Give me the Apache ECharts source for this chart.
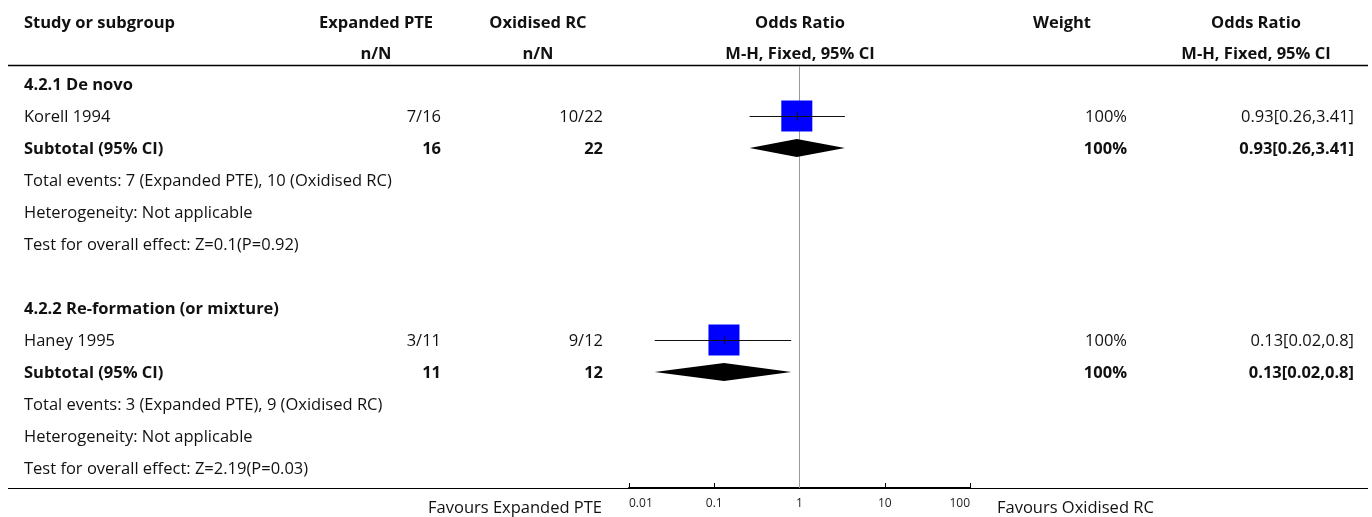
<!DOCTYPE html>
<html>
<head>
<meta charset="utf-8">
<title>Expanded PTE vs Oxidised RC</title>
<script src="https://cdn.jsdelivr.net/npm/echarts@6/dist/echarts.min.js"></script>
<style>
  html, body { margin: 0; padding: 0; background: #fff; }
  #chart { width: 1372px; height: 517px; }
</style>
</head>
<body>
<div id="chart"></div>
<script>
// Table rows, top to bottom
const rowLabels = [
  '4.2.1 De novo',
  'Korell 1994',
  'Subtotal (95% CI)',
  'Total events: 7 (Expanded PTE), 10 (Oxidised RC)',
  'Heterogeneity: Not applicable',
  'Test for overall effect: Z=0.1(P=0.92)',
  '',
  '4.2.2 Re-formation (or mixture)',
  'Haney 1995',
  'Subtotal (95% CI)',
  'Total events: 3 (Expanded PTE), 9 (Oxidised RC)',
  'Heterogeneity: Not applicable',
  'Test for overall effect: Z=2.19(P=0.03)'
];
const rowKinds = ['group', 'study', 'subtotal', 'note', 'note', 'note', 'blank',
                  'group', 'study', 'subtotal', 'note', 'note', 'note'];
const expandedCol = ['', '7/16', '16', '', '', '', '', '', '3/11', '11', '', '', ''];
const oxidisedCol = ['', '10/22', '22', '', '', '', '', '', '9/12', '12', '', '', ''];
const weightCol = ['', '100%', '100%', '', '', '', '', '', '100%', '100%', '', '', ''];
const orTextCol = ['', '0.93[0.26,3.41]', '0.93[0.26,3.41]', '', '', '', '', '',
                   '0.13[0.02,0.8]', '0.13[0.02,0.8]', '', '', ''];

// Effect estimates (odds ratios) and 95% CI per row
const orEstimate = [null, 0.93, 0.93, null, null, null, null, null, 0.13, 0.13, null, null, null];
const ciLower    = [null, 0.26, 0.26, null, null, null, null, null, 0.02, 0.02, null, null, null];
const ciUpper    = [null, 3.41, 3.41, null, null, null, null, null, 0.8,  0.8,  null, null, null];
const weightPct  = [null, 100, 100, null, null, null, null, null, 100, 100, null, null, null];

const axisTicks = [0.01, 0.1, 1, 10, 100];

const FONT = '"Open Sans"';
const FS = 16.5;
const TXT = '#111';

// Column anchors
const COL = {
  study: 24,
  expandedRight: 441,
  oxidisedRight: 603,
  weightRight: 1127,
  orRight: 1354,
  expandedHead: 376,
  oxidisedHead: 538,
  plotHead: 800,
  weightHead: 1062,
  orHead: 1256
};

const ROW_MIN = -0.5625;
const ROW_MAX = 12.625;

const chart = echarts.init(document.getElementById('chart'), null, { renderer: 'canvas' });

function txt(x, y, s, align, bold) {
  return {
    type: 'text',
    x: x, y: y,
    style: {
      text: s, fill: TXT, align: align, verticalAlign: 'middle',
      font: (bold ? 'bold ' : '') + FS + 'px ' + FONT
    }
  };
}

// Text columns for each row, vertically placed through the row axis
function renderTable(params, api) {
  const i = params.dataIndex;
  const y = api.coord([1, i])[1] + 1;
  const bold = rowKinds[i] === 'group' || rowKinds[i] === 'subtotal';
  const children = [];
  if (rowLabels[i]) children.push(txt(COL.study, y, rowLabels[i], 'left', bold));
  if (expandedCol[i]) children.push(txt(COL.expandedRight, y, expandedCol[i], 'right', bold));
  if (oxidisedCol[i]) children.push(txt(COL.oxidisedRight, y, oxidisedCol[i], 'right', bold));
  if (weightCol[i]) children.push(txt(COL.weightRight, y, weightCol[i], 'right', bold));
  if (orTextCol[i]) children.push(txt(COL.orRight, y, orTextCol[i], 'right', bold));
  return { type: 'group', children: children };
}

// Squares with CI whiskers for studies, diamonds for subtotals
function renderForest(params, api) {
  const i = params.dataIndex;
  if (orEstimate[i] == null) return null;
  const c = api.coord([orEstimate[i], i]);
  const lo = api.coord([ciLower[i], i]);
  const hi = api.coord([ciUpper[i], i]);
  const yl = Math.round(c[1]) + 0.5;
  if (rowKinds[i] === 'study') {
    const s = 31 * Math.sqrt(weightPct[i] / 100);
    return {
      type: 'group',
      children: [
        { type: 'rect', shape: { x: c[0] - s / 2, y: c[1] - s / 2, width: s, height: s },
          style: { fill: '#0000ff' } },
        { type: 'line', shape: { x1: lo[0], y1: yl, x2: hi[0], y2: yl },
          style: { stroke: '#111', lineWidth: 1 } },
        { type: 'line', shape: { x1: Math.round(c[0]) + 0.5, y1: yl - 4, x2: Math.round(c[0]) + 0.5, y2: yl + 4 },
          style: { stroke: '#111', lineWidth: 1 } }
      ]
    };
  }
  const h = 9;
  return {
    type: 'polygon',
    shape: { points: [[lo[0], c[1]], [c[0], c[1] - h], [hi[0], c[1]], [c[0], c[1] + h]] },
    style: { fill: '#000' }
  };
}

// Line of no effect at OR = 1
function renderNullLine(params, api) {
  const a = api.coord([1, ROW_MIN]);
  const b = api.coord([1, ROW_MAX]);
  const x = Math.round(a[0]) - 0.5;
  return { type: 'line', shape: { x1: x, y1: a[1], x2: x, y2: b[1] },
           style: { stroke: '#999', lineWidth: 1 } };
}

const rowIdx = rowLabels.map((_, i) => [1, i]);

const headFont = 'bold ' + FS + 'px ' + FONT;
function head(x, y, s, align) {
  return { type: 'text', x: x, y: y, silent: true,
           style: { text: s, fill: TXT, align: align, verticalAlign: 'middle', font: headFont } };
}

chart.setOption({
  animation: false,
  grid: { left: 629, right: 402, top: 66, bottom: 29 },
  xAxis: {
    type: 'log', logBase: 10, min: 0.01, max: 100,
    position: 'bottom',
    axisLine: { show: true, onZero: false, lineStyle: { color: '#000', width: 2 } },
    axisTick: { show: true, inside: true, length: 5, lineStyle: { color: '#000' } },
    axisLabel: {
      color: '#222', fontFamily: FONT, fontSize: 12, margin: 10,
      alignMinLabel: 'left', alignMaxLabel: 'right',
      formatter: v => {
        const t = axisTicks.find(k => Math.abs(Math.log10(k) - Math.log10(v)) < 1e-6);
        return t != null ? String(t) : '';
      }
    },
    splitLine: { show: false },
    minorTick: { show: false }
  },
  yAxis: {
    type: 'value', inverse: true, min: ROW_MIN, max: ROW_MAX,
    show: false
  },
  graphic: [
    head(COL.study, 23, 'Study or subgroup', 'left'),
    head(COL.expandedHead, 23, 'Expanded PTE', 'center'),
    head(COL.oxidisedHead, 23, 'Oxidised RC', 'center'),
    head(COL.plotHead, 23, 'Odds Ratio', 'center'),
    head(COL.weightHead, 23, 'Weight', 'center'),
    head(COL.orHead, 23, 'Odds Ratio', 'center'),
    head(COL.expandedHead, 54, 'n/N', 'center'),
    head(COL.oxidisedHead, 54, 'n/N', 'center'),
    head(COL.plotHead, 54, 'M-H, Fixed, 95% CI', 'center'),
    head(COL.orHead, 54, 'M-H, Fixed, 95% CI', 'center'),
    { type: 'line', silent: true, shape: { x1: 8, y1: 65.5, x2: 1368, y2: 65.5 },
      style: { stroke: '#000', lineWidth: 1.5 } },
    { type: 'line', silent: true, shape: { x1: 8, y1: 488.5, x2: 1368, y2: 488.5 },
      style: { stroke: '#000', lineWidth: 1 } },
    { type: 'text', x: 602, y: 508, silent: true,
      style: { text: 'Favours Expanded PTE', fill: TXT, align: 'right', verticalAlign: 'middle',
               font: FS + 'px ' + FONT } },
    { type: 'text', x: 997, y: 508, silent: true,
      style: { text: 'Favours Oxidised RC', fill: TXT, align: 'left', verticalAlign: 'middle',
               font: FS + 'px ' + FONT } }
  ],
  series: [
    { type: 'custom', name: 'null line', renderItem: renderNullLine, data: [[1, 0]], clip: false, silent: true },
    { type: 'custom', name: 'table', renderItem: renderTable, data: rowIdx, clip: false, silent: true },
    { type: 'custom', name: 'forest', renderItem: renderForest, data: rowIdx, clip: false, silent: true }
  ]
});
</script>
</body>
</html>
